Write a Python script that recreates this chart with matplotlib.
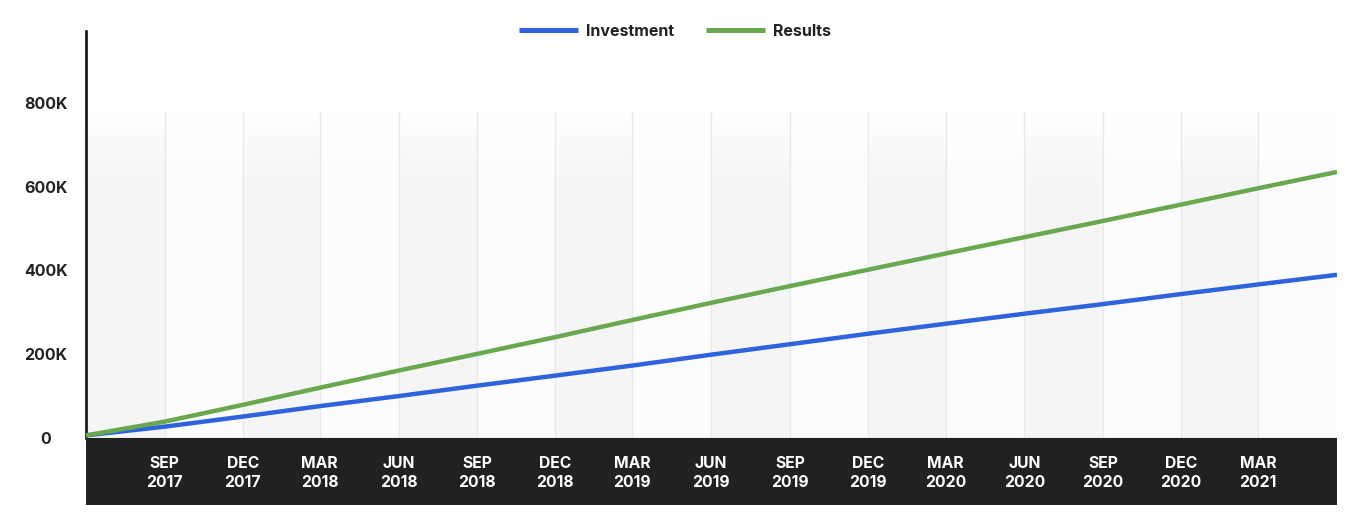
import matplotlib
matplotlib.use("Agg")
import matplotlib.pyplot as plt
import matplotlib.dates as mdates
import numpy as np
import pandas as pd

# ---- data ----
dates = ["2017-06-01", "2017-09-01", "2017-12-01", "2018-03-01", "2018-06-01",
         "2018-09-01", "2018-12-01", "2019-03-01", "2019-06-01", "2019-09-01",
         "2019-12-01", "2020-03-01", "2020-06-01", "2020-09-01", "2020-12-01",
         "2021-03-01", "2021-06-01"]
investment = [5, 26, 50, 75, 99, 124, 148, 172, 198, 223, 248, 272, 296, 319, 343, 366, 389]
results = [5, 38, 78, 119, 160, 200, 240, 281, 322, 362, 401, 440, 479, 518, 557, 596, 635]
tick_dates = ["2017-09-01", "2017-12-01", "2018-03-01", "2018-06-01", "2018-09-01",
              "2018-12-01", "2019-03-01", "2019-06-01", "2019-09-01", "2019-12-01",
              "2020-03-01", "2020-06-01", "2020-09-01", "2020-12-01", "2021-03-01"]
tick_labels = ["SEP\n2017", "DEC\n2017", "MAR\n2018", "JUN\n2018", "SEP\n2018",
               "DEC\n2018", "MAR\n2019", "JUN\n2019", "SEP\n2019", "DEC\n2019",
               "MAR\n2020", "JUN\n2020", "SEP\n2020", "DEC\n2020", "MAR\n2021"]
y_ticks = [0, 200, 400, 600, 800]
y_labels = ["0", "200K", "400K", "600K", "800K"]

x = mdates.date2num(pd.to_datetime(dates).to_pydatetime())
xt = mdates.date2num(pd.to_datetime(tick_dates).to_pydatetime())
inv = np.array(investment) * 1000
res = np.array(results) * 1000

plt.rcParams['font.family'] = ['Inter', 'DejaVu Sans']

fig = plt.figure(figsize=(13.5, 5.2), dpi=100)
left, right = 86 / 1350, 1337 / 1350
ax = fig.add_axes([left, (520 - 437.5) / 520, right - left, (437.5 - 31) / 520])
band = fig.add_axes([left, (520 - 505) / 520, right - left, (505 - 437.5) / 520])

x0, x1 = x[0], x[-1]
ymax = 972000
ax.set_xlim(x0, x1)
ax.set_ylim(0, ymax)

# background stripes
edges = np.concatenate([[x0], xt, [x1]])
stripe_top = 778000
for i in range(len(edges) - 1):
    c = '#f5f5f5' if i % 2 == 0 else '#fcfcfc'
    ax.fill_between([edges[i], edges[i + 1]], 0, stripe_top, color=c, lw=0, zorder=0)
# fade to white at top
grad = np.linspace(0, 1, 256)
rgba = np.ones((256, 1, 4))
rgba[:, 0, 3] = grad ** 1.5
ax.imshow(rgba, extent=[x0, x1, 560000, stripe_top], origin='lower',
          aspect='auto', zorder=0.5, interpolation='bilinear')
for t in xt:
    ax.plot([t, t], [0, stripe_top], color='#e9e9e9', lw=1, zorder=1)
ax.axhline(0, color='#bdbdbd', lw=1, zorder=1)

ax.plot(x, inv, color='#2f63de', lw=3.2, label='Investment', zorder=3,
        solid_capstyle='butt')
ax.plot(x, res, color='#69a84f', lw=3.2, label='Results', zorder=3,
        solid_capstyle='butt')

for s in ['top', 'right', 'bottom']:
    ax.spines[s].set_visible(False)
ax.spines['left'].set_color('#111111')
ax.spines['left'].set_linewidth(1.9)
ax.set_xticks([])
ax.set_yticks([v * 1000 for v in y_ticks])
ax.set_yticklabels(y_labels, fontsize=11.5, fontweight='bold', color='#222222')
for lab in ax.get_yticklabels():
    lab.set_horizontalalignment('center')
ax.tick_params(axis='y', length=0, pad=29)

# bottom dark band with tick labels
band.set_facecolor('#212121')
band.set_xlim(x0, x1)
band.set_ylim(0, 1)
band.set_xticks([])
band.set_yticks([])
for s in band.spines.values():
    s.set_visible(False)
for t, lab in zip(xt, tick_labels):
    band.text(t, 0.47, lab, ha='center', va='center', color='white',
              fontsize=11.3, fontweight='bold', linespacing=1.3)

leg = fig.legend(loc='center', bbox_to_anchor=(0.5, (520 - 31) / 520), ncol=2,
                 frameon=False, handlelength=3.7, handletextpad=0.5,
                 columnspacing=2.0, prop={'weight': 'bold', 'size': 11.5})
for txt in leg.get_texts():
    txt.set_color('#222222')
for h in leg.get_lines():
    h.set_linewidth(3.6)

fig.savefig('out.png', dpi=100)
